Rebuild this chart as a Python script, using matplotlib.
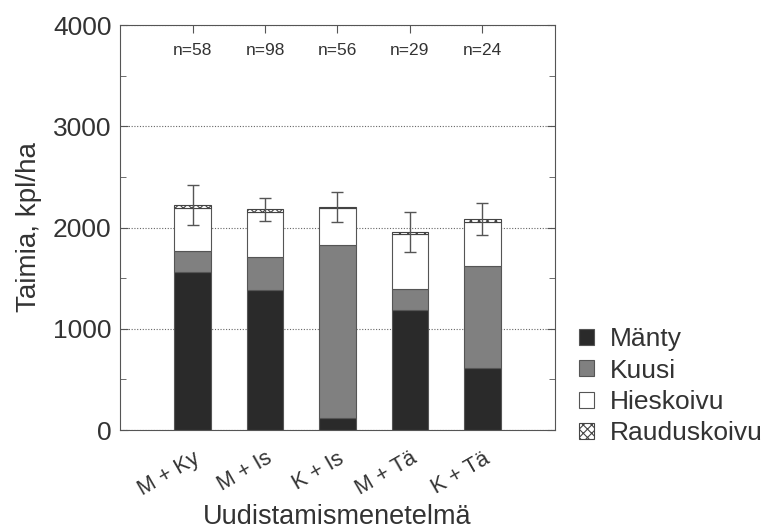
import numpy as np
import matplotlib
matplotlib.use('Agg')
import matplotlib.pyplot as plt

plt.rcParams['font.family'] = ['Liberation Sans', 'DejaVu Sans']
plt.rcParams['hatch.linewidth'] = 0.8

# Uudistamismenetelmät ja taimimäärät (kpl/ha)
methods = ['M + Ky', 'M + Is', 'K + Is', 'M + Tä', 'K + Tä']
n_labels = ['n=58', 'n=98', 'n=56', 'n=29', 'n=24']
manty = [1565, 1385, 115, 1190, 615]
kuusi = [205, 320, 1710, 205, 1005]
hieskoivu = [425, 445, 365, 545, 435]
rauduskoivu = [28, 30, 12, 15, 28]
err_low = [2020, 2068, 2052, 1760, 1927]
err_high = [2420, 2292, 2348, 2157, 2240]

text_col = '#333333'
x = np.arange(len(methods))

fig = plt.figure(figsize=(7.67, 5.29), dpi=100)
ax = fig.add_axes([0.1565, 0.1871, 0.567, 0.7656])

ax.set_axisbelow(True)
ax.grid(axis='y', linestyle=(0, (1, 1.5)), color='#666666', linewidth=0.8)

w = 0.5
edge = '#555555'
b1 = ax.bar(x, manty, w, color='#2a2a2a', edgecolor=edge, linewidth=0.8, label='Mänty')
b2 = ax.bar(x, kuusi, w, bottom=manty, color='#808080', edgecolor=edge,
            linewidth=0.8, label='Kuusi')
bot3 = np.array(manty) + np.array(kuusi)
b3 = ax.bar(x, hieskoivu, w, bottom=bot3, color='white', edgecolor=edge,
            linewidth=0.8, label='Hieskoivu')
bot4 = bot3 + np.array(hieskoivu)
b4 = ax.bar(x, rauduskoivu, w, bottom=bot4, color='white', edgecolor='#444444',
            hatch='xxxx', linewidth=0.8, label='Rauduskoivu')

mid = (np.array(err_low) + np.array(err_high)) / 2
half = (np.array(err_high) - np.array(err_low)) / 2
ax.errorbar(x, mid, yerr=half, fmt='none', ecolor='#555555', elinewidth=1.0,
            capsize=4.5, capthick=1.0)

for xi, lab in zip(x, n_labels):
    ax.text(xi, 3750, lab, ha='center', va='center', fontsize=12.5, color=text_col)

ax.set_xlim(-1, 5)
ax.set_ylim(0, 4000)
ax.set_yticks([0, 1000, 2000, 3000, 4000])
ax.set_yticks([500, 1500, 2500, 3500], minor=True)
ax.set_xticks(x)
ax.set_xticklabels(methods, rotation=30, fontsize=15.5, color=text_col,
                   ha='right', rotation_mode='anchor')
ax.tick_params(axis='y', labelsize=19, labelcolor=text_col, pad=6)
ax.tick_params(axis='both', which='both', direction='in', top=True, right=True,
               color='#555555')
ax.tick_params(axis='x', which='major', top=True, length=6, bottom=False, pad=13)
ax.tick_params(which='major', length=6)
ax.tick_params(which='minor', length=4)
for s in ax.spines.values():
    s.set_color('#555555')

ax.set_ylabel('Taimia, kpl/ha', fontsize=20, color=text_col, labelpad=8)
ax.set_xlabel('Uudistamismenetelmä', fontsize=19.5, color=text_col, va='center')
ax.xaxis.set_label_coords(0.5, -0.215)

handles = [b1, b2, b3, b4]
leg = fig.legend(handles, ['Mänty', 'Kuusi', 'Hieskoivu', 'Rauduskoivu'],
                 loc='lower left', bbox_to_anchor=(0.755, 0.158), frameon=False,
                 fontsize=19, handlelength=0.55, handleheight=0.55,
                 handletextpad=0.6, labelspacing=0.28, labelcolor=text_col,
                 borderaxespad=0.0, borderpad=0.0)

fig.savefig('out.png', dpi=100)
